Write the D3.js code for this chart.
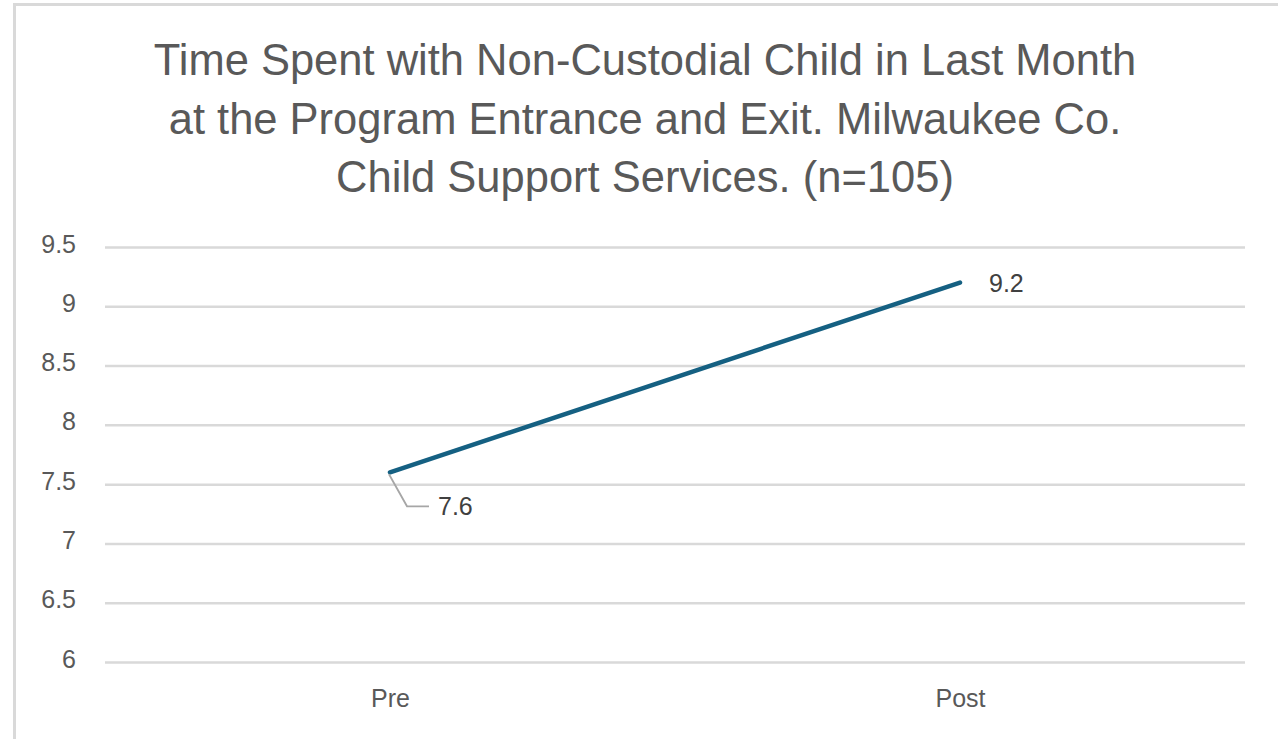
<!DOCTYPE html>
<html lang="en">
<head>
    <meta charset="UTF-8">
    <script src="https://d3js.org/d3.v7.min.js"></script>
    <title>Time Spent with Non-Custodial Child</title>
    <style>
        body {
            margin: 0;
            background: #fff;
            overflow: hidden;
        }
        text {
            font-family: "Liberation Sans", Arial, sans-serif;
        }
    </style>
</head>
<body>
    <script>
        // Données
        var categories = ["Pre", "Post"];
        var values = [7.6, 9.2];
        var yTicks = [6, 6.5, 7, 7.5, 8, 8.5, 9, 9.5];
        var titleLines = [
            "Time Spent with Non-Custodial Child in Last Month",
            "at the Program Entrance and Exit. Milwaukee Co.",
            "Child Support Services. (n=105)"
        ];

        var width = 1278,
            height = 739;

        var svg = d3.select("body")
            .append("svg")
            .attr("width", width)
            .attr("height", height);

        // Cadre du graphique (seuls les bords haut et gauche sont visibles)
        svg.append("rect")
            .attr("x", 14.5)
            .attr("y", 4.5)
            .attr("width", 1400)
            .attr("height", 900)
            .attr("fill", "none")
            .attr("stroke", "#d9d9d9")
            .attr("stroke-width", 3);

        var x = d3.scalePoint()
            .domain(categories)
            .range([105, 1245])
            .padding(0.5);

        var y = d3.scaleLinear()
            .domain([6, 9.5])
            .range([662, 247]);

        // Titre
        svg.append("g")
            .selectAll("text")
            .data(titleLines)
            .join("text")
            .attr("x", 645)
            .attr("y", (d, i) => 75 + i * 58.5)
            .attr("text-anchor", "middle")
            .attr("fill", "#595959")
            .style("font-size", "43.5px")
            .text(d => d);

        // Axe Y avec lignes de grille
        var yAxis = svg.append("g")
            .attr("transform", "translate(105,0)")
            .call(d3.axisLeft(y)
                .tickValues(yTicks)
                .tickSize(-1140)
                .tickPadding(29)
                .tickFormat(d => d));

        yAxis.select(".domain").remove();
        yAxis.selectAll(".tick line")
            .attr("stroke", "#d9d9d9")
            .attr("stroke-width", 2.5);
        yAxis.selectAll(".tick text")
            .attr("fill", "#595959")
            .attr("dy", "0.2em")
            .style("font-size", "25px");

        // Axe X (catégories)
        var xAxis = svg.append("g")
            .attr("transform", "translate(0,662)")
            .call(d3.axisBottom(x).tickSize(0).tickPadding(27));

        xAxis.select(".domain").remove();
        xAxis.selectAll(".tick text")
            .attr("fill", "#595959")
            .style("font-size", "25px");

        // Ligne de la série
        var line = d3.line()
            .x((d, i) => x(categories[i]))
            .y(d => y(d));

        svg.append("path")
            .datum(values)
            .attr("d", line)
            .attr("fill", "none")
            .attr("stroke", "#156082")
            .attr("stroke-width", 4.5)
            .attr("stroke-linecap", "round");

        // Ligne de rappel pour l'étiquette 7.6
        var p0 = [x(categories[0]), y(values[0])];
        svg.append("path")
            .attr("d", d3.line()([
                [p0[0] - 1, p0[1] + 2],
                [p0[0] + 17, p0[1] + 34],
                [p0[0] + 39, p0[1] + 34]
            ]))
            .attr("fill", "none")
            .attr("stroke", "#a6a6a6")
            .attr("stroke-width", 1.8);

        // Étiquettes de données
        svg.append("text")
            .attr("x", p0[0] + 48)
            .attr("y", p0[1] + 34)
            .attr("dy", "0.36em")
            .attr("fill", "#404040")
            .style("font-size", "25px")
            .text(values[0]);

        svg.append("text")
            .attr("x", x(categories[1]) + 29)
            .attr("y", y(values[1]))
            .attr("dy", "0.36em")
            .attr("fill", "#404040")
            .style("font-size", "25px")
            .text(values[1]);
    </script>
</body>
</html>
